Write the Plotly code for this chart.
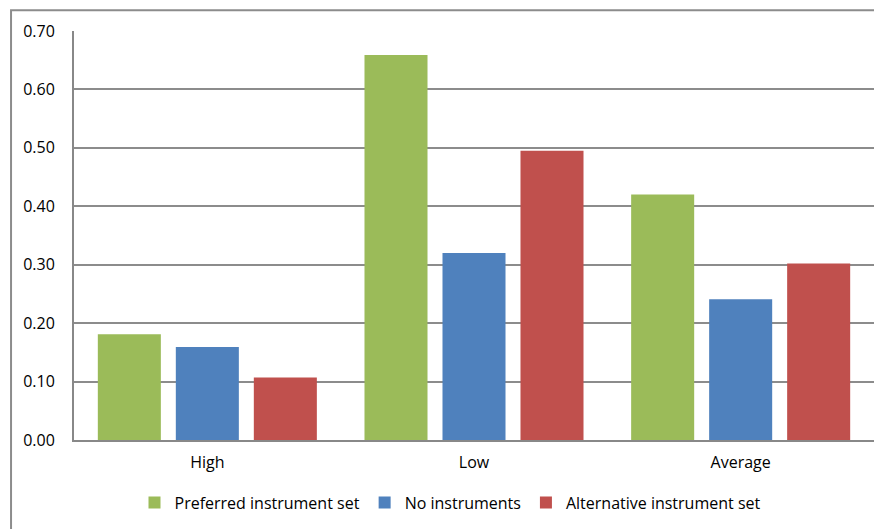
import plotly.graph_objects as go

categories = ["High", "Low", "Average"]
preferred = [0.181, 0.659, 0.420]
no_instr = [0.159, 0.320, 0.241]
alternative = [0.107, 0.495, 0.302]
series_names = ["Preferred instrument set", "No instruments", "Alternative instrument set"]
colors = ["#9BBB59", "#4F81BD", "#C0504D"]
tick_vals = [0, 0.1, 0.2, 0.3, 0.4, 0.5, 0.6, 0.7]
tick_text = ["0.00", "0.10", "0.20", "0.30", "0.40", "0.50", "0.60", "0.70"]

fig = go.Figure()
for name, vals, c in zip(series_names, [preferred, no_instr, alternative], colors):
    fig.add_trace(go.Bar(x=categories, y=vals, name=name, marker=dict(color=c, line=dict(width=0))))

font = "'Open Sans', sans-serif"
fig.update_layout(
    width=882, height=529,
    margin=dict(l=66, r=16, t=20, b=97),
    paper_bgcolor="white", plot_bgcolor="white",
    barmode="group", bargap=0.1225, bargroupgap=0.192,
    font=dict(family=font, size=16, color="#000000"),
    showlegend=True,
    legend=dict(orientation="h", x=0.47, xanchor="center", y=-0.153, yanchor="middle",
                font=dict(size=16), tracegroupgap=0, traceorder="normal"),
    xaxis=dict(showline=True, linecolor="#888888", linewidth=2, showgrid=False,
               ticks="", tickfont=dict(size=16), ticklabelstandoff=7),
    yaxis=dict(range=[0, 0.7], tickvals=tick_vals, ticktext=tick_text,
               showgrid=True, gridcolor="#8C8C8C", gridwidth=2,
               showline=True, linecolor="#888888", linewidth=2,
               ticks="", tickfont=dict(size=16), ticklabelstandoff=14, zeroline=False),
    shapes=[dict(type="rect", xref="paper", yref="paper",
                 x0=-0.0787, x1=1.03, y0=-0.3, y1=1.051,
                 line=dict(color="#8C8C8C", width=2), fillcolor="rgba(0,0,0,0)", layer="below")],
)
fig.write_html("out.html")
